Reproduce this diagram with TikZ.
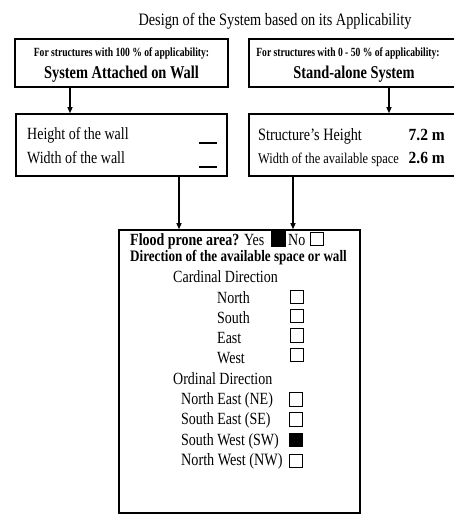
\documentclass[tikz,border=0pt]{standalone}
\usepackage{fontspec}
\setmainfont{Liberation Serif}
\usetikzlibrary{arrows.meta}
% text at a given size, drawn slightly tall and narrow
\newcommand{\tx}[3][1.22]{\scalebox{1}[#1]{\fontsize{#2}{#2}\selectfont #3}}
\tikzset{
  panel/.style={draw, line width=1.6pt, rectangle, inner sep=0pt},
  arr/.style={line width=1.1pt, -{Triangle[length=6pt,width=5pt]}},
  lbl/.style={inner sep=0pt, anchor=base west},
  tick/.style={draw, line width=1.2pt, rectangle, minimum width=12.5pt, minimum height=13.5pt, inner sep=0pt},
  ticked/.style={tick, fill=black},
}
\begin{document}
\begin{tikzpicture}[x=1pt, y=-1pt]
\clip (0,0) rectangle (454,515);
\useasboundingbox (0,0) rectangle (454,515);

% heading
\node[inner sep=0pt, anchor=base] (title) at (275,25) {\tx{14.3}{Design of the System based on its Applicability}};

% top panels
\node[panel, minimum width=213pt, minimum height=48pt] (b1) at (121.5,63) {};
\node[inner sep=0pt, anchor=base] (b1a) at (121.5,56) {\tx[1.3]{9.6}{\bfseries For structures with 100 \% of applicability:}};
\node[inner sep=0pt, anchor=base] (b1b) at (121.5,78.5) {\tx[1.25]{14.4}{\bfseries System Attached on Wall}};

\node[panel, minimum width=207pt, minimum height=48pt] (b2) at (352.5,63) {};
\node[inner sep=0pt, anchor=base] (b2a) at (348,56) {\tx[1.3]{9.6}{\bfseries For structures with 0 - 50 \% of applicability:}};
\node[inner sep=0pt, anchor=base] (b2b) at (354,78.5) {\tx[1.25]{14.4}{\bfseries Stand-alone System}};

% dimension panels
\node[panel, minimum width=211pt, minimum height=62pt] (b3) at (121.5,145) {};
\node[lbl] (h1) at (27,139) {\tx{14}{Height of the wall}};
\node[lbl] (w1) at (27,163.5) {\tx{14}{Width of the wall}};
\draw[line width=1.1pt] (199,143) -- (217,143);
\draw[line width=1.1pt] (199,167) -- (217,167);

\node[panel, minimum width=207pt, minimum height=62pt] (b4) at (352.5,145) {};
\node[lbl] (h2) at (258,140) {\tx{14.2}{Structure’s Height}};
\node[lbl] (w2) at (258,163.5) {\tx[1.2]{12.4}{Width of the available space}};
\node[inner sep=0pt, anchor=base east] (v1) at (445,140) {\tx[1.1]{15.5}{\bfseries 7.2 m}};
\node[inner sep=0pt, anchor=base east] (v2) at (445,163.5) {\tx[1.1]{15.5}{\bfseries 2.6 m}};

% checklist panel
\node[panel, minimum width=241pt, minimum height=283pt] (b5) at (239.5,371.5) {};
\node[lbl] (fl) at (130,245) {\tx{14}{\textbf{Flood prone area?} Yes}};
\node[ticked, minimum width=14pt, minimum height=14pt] (yes) at (278.5,239) {};
\node[lbl] (no) at (288,245) {\tx{14}{No}};
\node[tick] (nobox) at (317,239) {};
\node[lbl] (dir) at (130,261) {\tx{13.1}{\bfseries Direction of the available space or wall}};

\node[lbl] (card) at (173,282) {\tx{14}{Cardinal Direction}};
\node[lbl] (cn) at (217,303) {\tx{14}{North}};
\node[lbl] (cs) at (217,323) {\tx{14}{South}};
\node[lbl] (ce) at (217,343) {\tx{14}{East}};
\node[lbl] (cw) at (217,363) {\tx{14}{West}};
\node[tick] (tn) at (297,297) {};
\node[tick] (ts) at (297,316) {};
\node[tick] (te) at (297,335.5) {};
\node[tick] (tw) at (297,355) {};

\node[lbl] (ord) at (173,384) {\tx{14}{Ordinal Direction}};
\node[lbl] (ne) at (181,404) {\tx{14}{North East (NE)}};
\node[lbl] (se) at (181,424) {\tx{14}{South East (SE)}};
\node[lbl] (sw) at (181,445) {\tx{14}{South West (SW)}};
\node[lbl] (nw) at (181,465) {\tx{14.2}{North West (NW)}};
\node[tick] (tne) at (296,399.5) {};
\node[tick] (tse) at (296,419.5) {};
\node[ticked] (tsw) at (296,440) {};
\node[tick] (tnw) at (296,461) {};

% connectors
\draw[arr] ([xshift=-51.5pt]b1.south) -- ([xshift=-51.5pt]b3.north);
\draw[arr] ([xshift=36.5pt]b2.south) -- ([xshift=36.5pt]b4.north);
\draw[arr] ([xshift=57.5pt]b3.south) -- ([xshift=57.5pt]b3.south |- b5.north);
\draw[arr] ([xshift=-59.5pt]b4.south) -- ([xshift=-59.5pt]b4.south |- b5.north);
\end{tikzpicture}
\end{document}
